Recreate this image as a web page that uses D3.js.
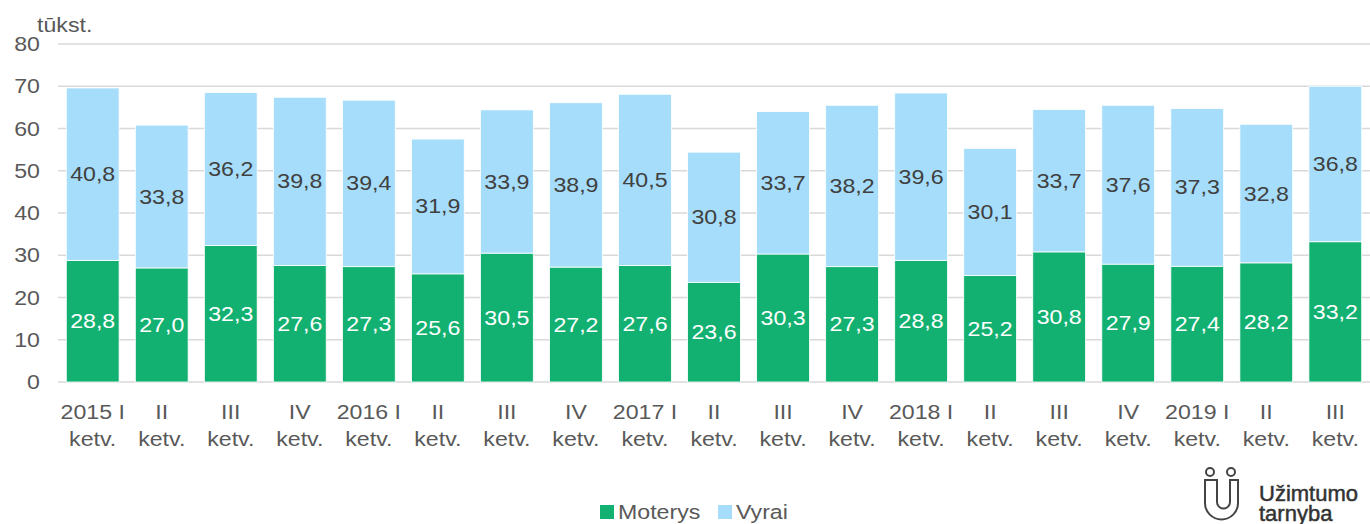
<!DOCTYPE html>
<html>
<head>
<meta charset="utf-8" />
<script src="https://cdn.jsdelivr.net/npm/d3@7"></script>
<style>
  body { margin: 0; background: #fff; }
  svg text { font-family: "Liberation Sans", Arial, sans-serif; }
</style>
</head>
<body>
<svg id="chart" width="1370" height="524"></svg>
<script>
// ketvirciai
var quarters = ["2015 I", "II", "III", "IV", "2016 I", "II", "III", "IV", "2017 I", "II",
                "III", "IV", "2018 I", "II", "III", "IV", "2019 I", "II", "III"];
var moterys = [28.8, 27.0, 32.3, 27.6, 27.3, 25.6, 30.5, 27.2, 27.6, 23.6,
               30.3, 27.3, 28.8, 25.2, 30.8, 27.9, 27.4, 28.2, 33.2];
var vyrai = [40.8, 33.8, 36.2, 39.8, 39.4, 31.9, 33.9, 38.9, 40.5, 30.8,
             33.7, 38.2, 39.6, 30.1, 33.7, 37.6, 37.3, 32.8, 36.8];
var yTicks = [0, 10, 20, 30, 40, 50, 60, 70, 80];
var seriesNames = ["Moterys", "Vyrai"];

var green = "#13B171", blue = "#A6DDFB", txt = "#595959";
var FS = 20.5, SX = 1.13; // text looks a bit stretched wide in the original

var svg = d3.select("#chart");
var pLeft = 58, pRight = 1370, pTop = 44, pBottom = 382;

var x = d3.scaleBand().domain(d3.range(quarters.length)).range([pLeft, pRight])
  .paddingInner(0.235).paddingOuter(0.12);
var y = d3.scaleLinear().domain([0, 80]).range([pBottom, pTop]);

function fmt(v) { return v.toFixed(1).replace(".", ","); }

function label(g, tx, ty, str, anchor, fill, weight) {
  return g.append("text")
    .attr("transform", "translate(" + tx + "," + ty + ") scale(" + SX + ",1)")
    .attr("text-anchor", anchor || "start")
    .attr("font-size", FS)
    .attr("font-weight", weight || "normal")
    .attr("fill", fill || txt)
    .text(str);
}

// grid
svg.append("g").selectAll("line").data(yTicks).join("line")
  .attr("x1", pLeft).attr("x2", pRight)
  .attr("y1", function(d) { return y(d); }).attr("y2", function(d) { return y(d); })
  .attr("stroke", "#d9d9d9").attr("stroke-width", 1.3);

var axisG = svg.append("g");
yTicks.forEach(function(d) {
  label(axisG, 40, y(d) + 7, d, "end");
});
label(svg, 37, 32, "tūkst.");

// bars
var bars = svg.append("g");
var xlab = svg.append("g");
quarters.forEach(function(c, i) {
  var m = moterys[i], v = vyrai[i];
  var bx = x(i), bw = x.bandwidth(), cx = bx + bw / 2;
  bars.append("rect").attr("x", bx).attr("width", bw)
    .attr("y", y(m)).attr("height", y(0) - y(m))
    .attr("fill", green).attr("stroke", "#ffffff").attr("stroke-width", 0.8);
  bars.append("rect").attr("x", bx).attr("width", bw)
    .attr("y", y(m + v)).attr("height", y(m) - y(m + v))
    .attr("fill", blue).attr("stroke", "#ffffff").attr("stroke-width", 0.8);
  label(bars, cx, y(m / 2) + 7, fmt(m), "middle", "#ffffff");
  label(bars, cx, y(m + v / 2) + 7, fmt(v), "middle", "#404040");
  label(xlab, cx, 419, c, "middle");
  label(xlab, cx, 446, "ketv.", "middle");
});

// legend
var leg = svg.append("g");
leg.append("rect").attr("x", 600).attr("y", 505).attr("width", 14).attr("height", 14).attr("fill", green);
label(leg, 618, 519, seriesNames[0]);
leg.append("rect").attr("x", 718).attr("y", 505).attr("width", 14).attr("height", 14).attr("fill", blue);
label(leg, 736, 519, seriesNames[1]);

// logo
var logo = svg.append("g").attr("fill", "none").attr("stroke", "#444").attr("stroke-width", 2);
logo.append("circle").attr("cx", 1210).attr("cy", 472).attr("r", 4);
logo.append("circle").attr("cx", 1231).attr("cy", 472).attr("r", 4);
logo.append("path")
  .attr("d", "M1205,480 V503 A16.5,16.5 0 0 0 1238,503 V480 H1230 V502 A6.5,6.5 0 0 1 1217,502 V480 Z");
svg.append("text").attr("x", 1259).attr("y", 501).attr("font-size", 22)
  .attr("fill", "#333").attr("stroke", "#333").attr("stroke-width", 0.5).text("Užimtumo");
svg.append("text").attr("x", 1259).attr("y", 521).attr("font-size", 22)
  .attr("fill", "#333").attr("stroke", "#333").attr("stroke-width", 0.5).text("tarnyba");
</script>
</body>
</html>
